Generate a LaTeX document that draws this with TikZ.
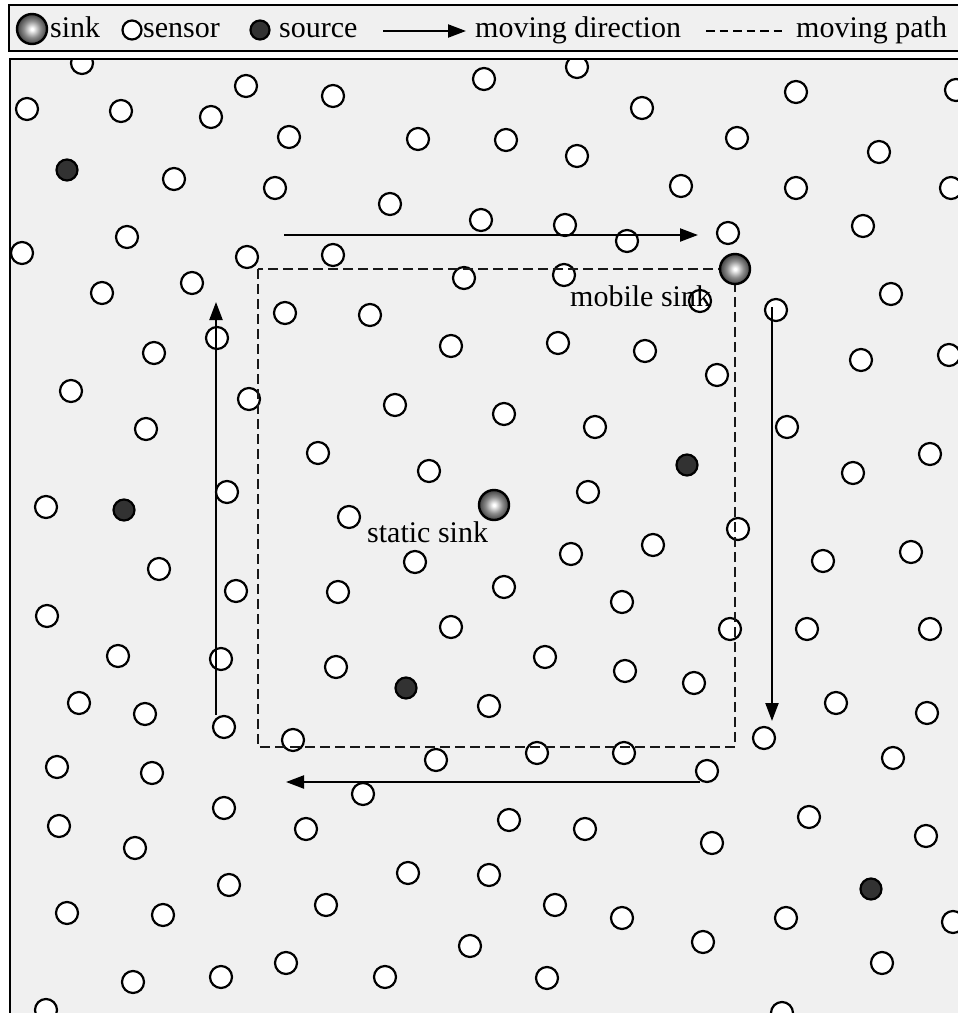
\documentclass[tikz,border=0pt]{standalone}
\usepackage{fontspec}
\setmainfont{Liberation Serif}
\usepackage{tikz}
\usetikzlibrary{arrows.meta}
\definecolor{fieldGray}{RGB}{240,240,240}
\definecolor{srcGray}{RGB}{50,50,50}
\pgfdeclareradialshading{sinkball}{\pgfpoint{0bp}{0bp}}{%
  color(0bp)=(white); color(2bp)=(white); color(14bp)=(black!45);
  color(25bp)=(black!75); color(50bp)=(black!85)}

\begin{document}
\begin{tikzpicture}[x=1pt,y=-1pt,
  sensor/.style={circle,draw=black,fill=white,line width=2.2pt,
                 minimum size=22pt,inner sep=0pt},
  source/.style={circle,draw=black,fill=srcGray,line width=2.2pt,
                 minimum size=21pt,inner sep=0pt},
  sink/.style={circle,draw=black,line width=2.4pt,shading=sinkball,
               minimum size=30pt,inner sep=0pt},
  lbl/.style={font=\fontsize{30}{36}\selectfont,anchor=base west,inner sep=0pt},
  movearrow/.style={line width=2.2pt,-{Triangle[length=18pt,width=13pt]}},
  pathline/.style={line width=2.4pt,black!90,dash pattern=on 10pt off 5pt},
]
\useasboundingbox (0,0) rectangle (958,1013);

% legend
\draw[line width=2.6pt,fill=fieldGray] (9,5) rectangle (964,51);
\node[sink] (lsink) at (32,29) {};
\node[lbl] (tsink) at (50,37) {sink};
\node[sensor,minimum size=19pt] (lsensor) at (132,30) {};
\node[lbl] (tsensor) at (143,37) {sensor};
\node[source,minimum size=19pt] (lsource) at (260,30) {};
\node[lbl] (tsource) at (279,37) {source};
\coordinate (la1) at (383,31);
\coordinate (la2) at (466,31);
\draw[movearrow] (la1) -- (la2);
\node[lbl] (tdir) at (475,37) {moving direction};
\coordinate (lp1) at (706,31);
\coordinate (lp2) at (782,31);
\draw[line width=2.6pt,dash pattern=on 8.5pt off 5pt] (lp1) -- (lp2);
\node[lbl] (tpath) at (796,37) {moving path};

% sensor field
\draw[line width=2.6pt,fill=fieldGray] (10,59) rectangle (964,1019);
\begin{scope}
\clip (11,60) rectangle (964,1019);
\foreach \x/\y [count=\i] in {
  82/63,27/109,121/111,246/86,211/117,289/137,174/179,275/188,127/237,
  22/253,247/257,192/283,102/293,577/67,484/79,333/96,642/108,418/139,
  506/140,577/156,390/204,481/220,565/225,627/241,333/255,464/278,564/275,
  796/92,956/90,737/138,879/152,681/186,796/188,951/188,728/233,863/226,
  891/294,285/313,217/338,154/353,71/391,249/399,146/429,318/453,227/492,
  46/507,700/301,776/310,645/351,717/375,861/360,949/355,787/427,930/454,
  853/473,738/529,370/315,451/346,558/343,395/405,504/414,595/427,429/471,
  588/492,349/517,415/562,571/554,653/545,338/592,504/587,622/602,451/627,
  545/657,336/667,625/671,489/706,694/683,730/629,159/569,236/591,47/616,
  118/656,221/659,79/703,145/714,224/727,293/740,57/767,152/773,823/561,
  911/552,807/629,930/629,836/703,927/713,764/738,893/758,707/771,436/760,
  537/753,624/753,363/794,224/808,306/829,509/820,585/829,59/826,135/848,
  712/843,809/817,926/836,408/873,489/875,229/885,67/913,163/915,326/905,
  555/905,622/918,786/918,953/922,470/946,703/942,882/963,221/977,286/963,
  385/977,547/978,133/982,46/1010,782/1013}
  \node[sensor] (s\i) at (\x,\y) {};
\foreach \x/\y [count=\i] in {67/170,124/510,687/465,406/688,871/889}
  \node[source] (src\i) at (\x,\y) {};
\end{scope}

% moving path of the mobile sink
\coordinate (p1) at (258,269);
\coordinate (p2) at (735,747);
\draw[pathline] (p1) rectangle (p2);

% moving directions
\coordinate (t1) at (284,235);
\coordinate (t2) at (698,235);
\coordinate (r1) at (772,307);
\coordinate (r2) at (772,721);
\coordinate (b1) at (700,782);
\coordinate (b2) at (286,782);
\coordinate (l1) at (216,715);
\coordinate (l2) at (216,302);
\draw[movearrow] (t1) -- (t2);
\draw[movearrow] (r1) -- (r2);
\draw[movearrow] (b1) -- (b2);
\draw[movearrow] (l1) -- (l2);

% sinks
\node[sink] (mobile) at (735,269) {};
\node[sink] (static) at (494,505) {};
\node[lbl] (tmobile) at (570,306) {mobile sink};
\node[lbl] (tstatic) at (367,542) {static sink};
\end{tikzpicture}
\end{document}
